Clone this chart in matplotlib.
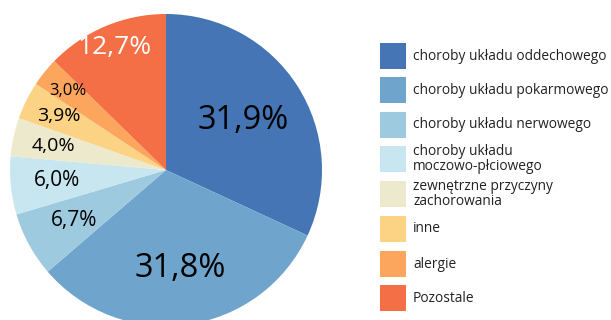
import matplotlib
matplotlib.use("Agg")
import matplotlib.pyplot as plt
from matplotlib.patches import Rectangle
import numpy as np

plt.rcParams['font.family'] = ['Open Sans', 'DejaVu Sans']

categories = [
    "choroby układu oddechowego",
    "choroby układu pokarmowego",
    "choroby układu nerwowego",
    "choroby układu\nmoczowo-płciowego",
    "zewnętrzne przyczyny\nzachorowania",
    "inne",
    "alergie",
    "Pozostale",
]
values = [31.9, 31.8, 6.7, 6.0, 4.0, 3.9, 3.0, 12.7]
value_labels = ["31,9%", "31,8%", "6,7%", "6,0%", "4,0%", "3,9%", "3,0%", "12,7%"]

colors = ["#4575b4", "#6fa5cc", "#9ecae0", "#c8e6f0",
          "#ece9cc", "#fcd284", "#fca55d", "#f46f45"]
label_colors = ["black"] * 7 + ["white"]
label_sizes = [23.5, 23.5, 15, 15, 14, 14, 12, 19]
label_radii = [0.59, 0.64, 0.67, 0.70, 0.74, 0.77, 0.81, 0.85]

W, H = 611, 320
fig = plt.figure(figsize=(W / 100, H / 100), dpi=100)

# Pie axes: centre at (166, 170) px, radius 156 px
R = 156
cx, cy = 166, 170
ax = fig.add_axes([(cx - R) / W, (H - cy - R) / H, 2 * R / W, 2 * R / H])
wedges, _ = ax.pie(values, colors=colors, startangle=90, counterclock=False,
                   radius=1, wedgeprops=dict(linewidth=0))
ax.set_xlim(-1, 1)
ax.set_ylim(-1, 1)
ax.set_aspect('equal')
ax.axis('off')

for w, lab, col, fs, r in zip(wedges, value_labels, label_colors, label_sizes, label_radii):
    ang = np.deg2rad((w.theta1 + w.theta2) / 2)
    ax.text(r * np.cos(ang), r * np.sin(ang), lab, ha='center', va='center',
            color=col, fontsize=fs)

# Legend drawn in pixel coordinates
lax = fig.add_axes([0, 0, 1, 1])
lax.set_xlim(0, W)
lax.set_ylim(H, 0)
lax.axis('off')
row_y = [56, 90, 125, 159, 194, 229, 264, 298]
for yc, name, c in zip(row_y, categories, colors):
    lax.add_patch(Rectangle((380, yc - 13), 26, 26, facecolor=c, edgecolor='none'))
    lax.text(413, yc, name, ha='left', va='center', fontsize=9.95,
             color='#222222', linespacing=0.95)

fig.savefig("out.png", dpi=100)
